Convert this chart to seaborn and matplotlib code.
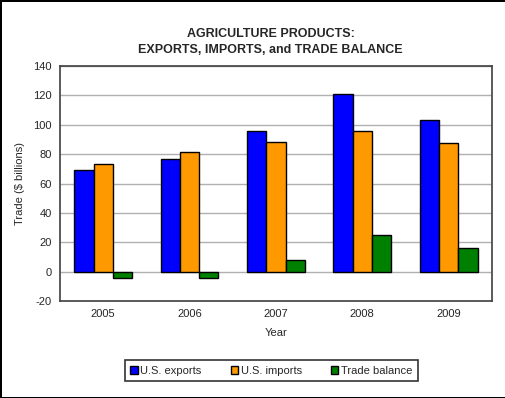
import numpy as np
import pandas as pd
import seaborn as sns
import matplotlib.pyplot as plt

years = ['2005', '2006', '2007', '2008', '2009']
exports = [69, 77, 96, 121, 103]
imports = [73, 81.5, 88, 96, 87.5]
balance = [-4, -4.5, 8, 25, 16]
series = ['U.S. exports', 'U.S. imports', 'Trade balance']
colors = ['#0000FF', '#FF9900', '#008000']

df = pd.DataFrame({
    'Year': years * 3,
    'value': exports + imports + balance,
    'series': np.repeat(series, len(years)),
})

sns.set_style('white')
plt.rcParams['font.family'] = ['Liberation Sans', 'DejaVu Sans']
plt.rcParams['axes.unicode_minus'] = False

fig = plt.figure(figsize=(5.06, 3.98), dpi=100)
ax = fig.add_axes([0.1186, 0.2437, 0.8534, 0.5903])
sns.barplot(data=df, x='Year', y='value', hue='series', palette=colors,
            width=0.67, edgecolor='black', linewidth=1, saturation=1, ax=ax)

ax.set_ylim(-20, 140)
ax.set_yticks(range(-20, 141, 20))
ax.yaxis.grid(True, color='#b0b0b0', linewidth=1)
ax.set_axisbelow(True)
for s in ax.spines.values():
    s.set_color('#404040')
    s.set_linewidth(1.2)
ax.tick_params(axis='both', labelsize=8, length=0, pad=6)
ax.set_xlabel('Year', fontsize=8, labelpad=6)
ax.set_ylabel('Trade ($ billions)', fontsize=8, labelpad=6)

fig.suptitle('AGRICULTURE PRODUCTS:\nEXPORTS, IMPORTS, and TRADE BALANCE',
             fontsize=9, fontweight='bold', y=0.93, x=0.535, linespacing=1.5)

ax.legend_.remove()
h, l = ax.get_legend_handles_labels()
leg = fig.legend(h, l, loc='center', bbox_to_anchor=(0.536, 0.068), ncol=3,
                 fontsize=8, frameon=True, fancybox=False, handlelength=0.7,
                 handleheight=0.7, handletextpad=0.2, columnspacing=2.6,
                 borderpad=0.5, borderaxespad=0)
leg.get_frame().set_edgecolor('black')
leg.get_frame().set_linewidth(1.2)

fig.patch.set_edgecolor('black')
fig.patch.set_linewidth(2)

plt.savefig('out.png', dpi=100, edgecolor=fig.get_edgecolor())
